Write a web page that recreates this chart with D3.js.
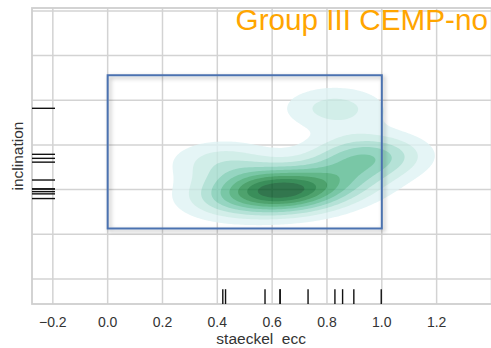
<!DOCTYPE html>
<html><head><meta charset="utf-8">
<script src="https://cdn.jsdelivr.net/npm/d3@7"></script>
<style>body{margin:0;background:#fff}svg{display:block}text{font-family:"Liberation Sans",Arial,sans-serif}</style>
</head><body>
<svg id="c" width="491" height="348"></svg>
<script>
// data (eccentricity, inclination in arbitrary units)
const eccValues = [0.42, 0.43, 0.574, 0.629, 0.629, 0.731, 0.829, 0.857, 0.898, 0.998];
const inclValues = [52.3, 36.0, 38.1, 40.3, 40.3, 39.1, 76.4, 44.3, 54.0, 55.8];
const xTicks = [-0.2, 0.0, 0.2, 0.4, 0.6, 0.8, 1.0, 1.2, 1.4];
const yTicks = [0, 20, 40, 60, 80, 100, 120];
const boxX = [0.0, 1.0];
const boxY = [22.6, 91.2];
const titleText = "Group III CEMP-no";

const svg = d3.select("#c");
const L = 32, R = 492, T = 8, B = 304;
const x = d3.scaleLinear().domain([-0.276, 1.402]).range([L, R]);
const y = d3.scaleLinear().domain([-11.2, 121.3]).range([B, T]);

const defs = svg.append("defs");
defs.append("clipPath").attr("id","clip").append("rect").attr("x",L).attr("y",T).attr("width",R-L).attr("height",B-T);
const f = defs.append("filter").attr("id","shadow").attr("x","-10%").attr("y","-10%").attr("width","130%").attr("height","130%");
f.append("feDropShadow").attr("dx",2).attr("dy",2).attr("stdDeviation",2).attr("flood-color","#000").attr("flood-opacity",0.3);

// grid
const grid = svg.append("g");
grid.selectAll(".gx").data(xTicks).join("line")
  .attr("x1",d=>x(d)).attr("x2",d=>x(d)).attr("y1",T).attr("y2",B)
  .attr("stroke","#d3d3d3").attr("stroke-width",1.5);
grid.selectAll(".gy").data(yTicks).join("line")
  .attr("x1",L).attr("x2",R).attr("y1",d=>y(d)).attr("y2",d=>y(d))
  .attr("stroke","#d3d3d3").attr("stroke-width",1.5);
svg.append("rect").attr("x",L).attr("y",T).attr("width",R-L).attr("height",B-T)
  .attr("fill","none").attr("stroke","#cfcfcf").attr("stroke-width",1.8);

// KDE (product gaussian kernel, Scott bandwidth per axis)
const n = eccValues.length;
function bw(arr){
  const m = d3.mean(arr);
  const s = Math.sqrt(d3.mean(arr, v=>(v-m)*(v-m)));
  const sorted = arr.slice().sort(d3.ascending);
  const iqr = d3.quantile(sorted,0.75)-d3.quantile(sorted,0.25);
  return 1.059*Math.min(s, iqr/1.349)*Math.pow(n,-0.2);
}
const hx = bw(eccValues)*1.05, hy = bw(inclValues)*0.98;
const step = 2;
const nx = Math.ceil((R-L)/step), ny = Math.ceil((B-T)/step);
const vals = new Float64Array(nx*ny);
for (let j=0;j<ny;j++){
  const yv = y.invert(T + (j+0.5)*step);
  for (let i=0;i<nx;i++){
    const xv = x.invert(L + (i+0.5)*step);
    let s=0;
    for (let k=0;k<n;k++){
      const dx=(xv-eccValues[k])/hx, dy=(yv-inclValues[k])/hy;
      s+=Math.exp(-0.5*(dx*dx+dy*dy));
    }
    vals[j*nx+i]=s;
  }
}
const maxV = d3.max(vals);
const nLev = 9;
const levels = d3.range(1, nLev+1).map(k=>maxV*k/(nLev+1));
const contours = d3.contours().size([nx,ny]).thresholds(levels)(vals);
const path = d3.geoPath(d3.geoIdentity().scale(step).translate([L,T]));
const kg = svg.append("g").attr("clip-path","url(#clip)").attr("opacity",0.8);
kg.selectAll("path").data(contours).join("path")
  .attr("d",path)
  .attr("fill",(d,i)=>d3.interpolateBuGn((i+1.5)/(nLev+1)))
  .attr("stroke","none");

// box
svg.append("rect")
  .attr("x",x(boxX[0])).attr("y",y(boxY[1]))
  .attr("width",x(boxX[1])-x(boxX[0])).attr("height",y(boxY[0])-y(boxY[1]))
  .attr("fill","none").attr("stroke","#4c72b0").attr("stroke-width",2)
  .attr("filter","url(#shadow)");

// rugs
const rugH = 0.05*(B-T), rugW = 0.05*(R-L);
svg.append("g").selectAll("line").data(eccValues).join("line")
  .attr("x1",d=>x(d)).attr("x2",d=>x(d)).attr("y1",B).attr("y2",B-rugH)
  .attr("stroke","#111").attr("stroke-width",1.4);
svg.append("g").selectAll("line").data(inclValues).join("line")
  .attr("y1",d=>y(d)).attr("y2",d=>y(d)).attr("x1",L).attr("x2",L+rugW)
  .attr("stroke","#111").attr("stroke-width",1.4);

// x tick labels
const fmt = d3.format(".1f");
svg.append("g").selectAll("text").data(xTicks.filter(d=>x(d)<480)).join("text")
  .attr("x",d=>x(d)).attr("y",327).attr("text-anchor","middle")
  .attr("font-size",14).attr("fill","#333")
  .text(d=>fmt(d).replace("-","\u2212"));

svg.append("text").attr("x",x(0.56)).attr("y",344).attr("text-anchor","middle")
  .attr("font-size",15.5).attr("fill","#333").attr("xml:space","preserve").text("staeckel  ecc");
svg.append("text").attr("transform",`translate(23,${(T+B)/2}) rotate(-90)`)
  .attr("text-anchor","middle").attr("font-size",15.5).attr("fill","#333").text("inclination");

svg.append("text").attr("x",488).attr("y",30).attr("text-anchor","end")
  .attr("font-size",29.7).attr("fill","#ffa500").text(titleText);
</script>
</body></html>
